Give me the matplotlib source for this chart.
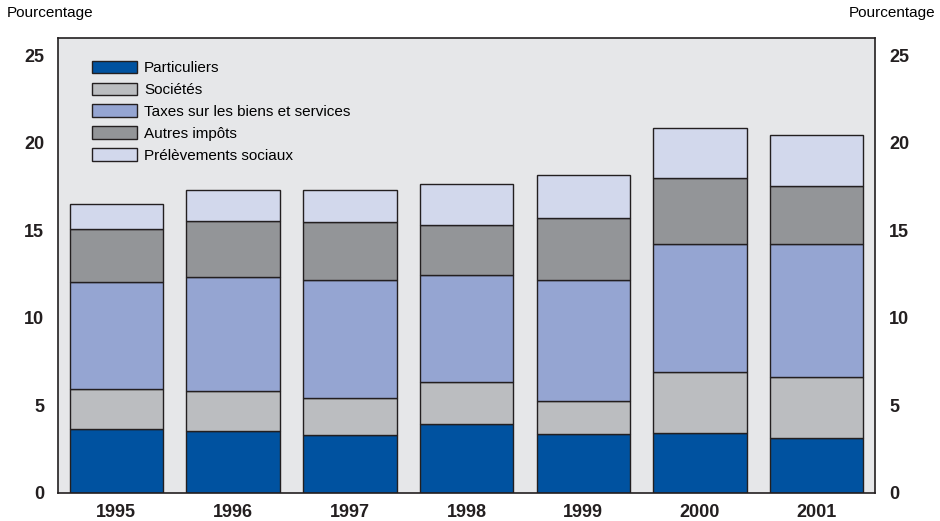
import matplotlib
matplotlib.use('Agg')
import matplotlib.pyplot as plt
import numpy as np
from matplotlib.patches import Patch

plt.rcParams['font.family'] = ['Liberation Sans', 'DejaVu Sans']

years = ['1995', '1996', '1997', '1998', '1999', '2000', '2001']
particuliers = [3.65, 3.54, 3.29, 3.90, 3.33, 3.41, 3.14]
societes = [2.27, 2.27, 2.10, 2.41, 1.91, 3.47, 3.47]
taxes = [6.11, 6.54, 6.75, 6.14, 6.94, 7.36, 7.61]
autres = [3.04, 3.21, 3.32, 2.84, 3.51, 3.76, 3.32]
prelevements = [1.44, 1.77, 1.87, 2.37, 2.47, 2.88, 2.94]

labels = ['Particuliers', 'Sociétés', 'Taxes sur les biens et services',
          'Autres impôts', 'Prélèvements sociaux']
colors = ['#0052a0', '#bbbdc0', '#95a5d2', '#939598', '#d2d8ec']
series = [particuliers, societes, taxes, autres, prelevements]
edge = '#231f20'

fig = plt.figure(figsize=(9.4, 5.21), dpi=100)
ax = fig.add_axes([0.0617, 0.0547, 0.8693, 0.8723])
ax.set_facecolor('#e6e7e9')

x = np.arange(len(years))
bottom = np.zeros(len(years))
for vals, col in zip(series, colors):
    ax.bar(x, vals, 0.8, bottom=bottom, color=col, edgecolor=edge, linewidth=1.0, zorder=2)
    bottom += np.array(vals)

ax.set_xlim(-0.5, len(years) - 0.5)
ax.set_ylim(0, 26)
ax.set_xticks(x)
ax.set_xticklabels(years, fontweight='bold')
ax.tick_params(axis='x', length=0, pad=8, labelsize=13, labelcolor='#231f20')

ax.set_yticks(range(0, 26, 5))
ax.set_yticklabels([str(v) for v in range(0, 26, 5)], fontweight='bold')
ax.set_yticks([5, 10, 15, 20], minor=True)
ax.tick_params(axis='y', which='major', length=0, pad=10, labelsize=13,
               labelcolor='#231f20', left=True, right=True,
               labelleft=True, labelright=True)
ax.tick_params(axis='y', which='minor', direction='in', length=8.5, width=1.0,
               color=edge, left=True, right=True)
ax.set_axisbelow(True)
for s in ax.spines.values():
    s.set_color(edge)
    s.set_linewidth(1.2)

# legend in the upper left corner, no frame
handles = [Patch(facecolor=c, edgecolor=edge, linewidth=1.0) for c in colors]
ax.legend(handles, labels, loc='upper left', bbox_to_anchor=(0.041, 0.95),
          frameon=False, fontsize=11, handlelength=3.0, handleheight=0.9,
          handletextpad=0.45, labelspacing=0.47, borderpad=0, borderaxespad=0)

fig.text(0.007, 0.975, 'Pourcentage', ha='left', va='center', fontsize=11)
fig.text(0.995, 0.975, 'Pourcentage', ha='right', va='center', fontsize=11)

fig.savefig('out.png', dpi=100)
